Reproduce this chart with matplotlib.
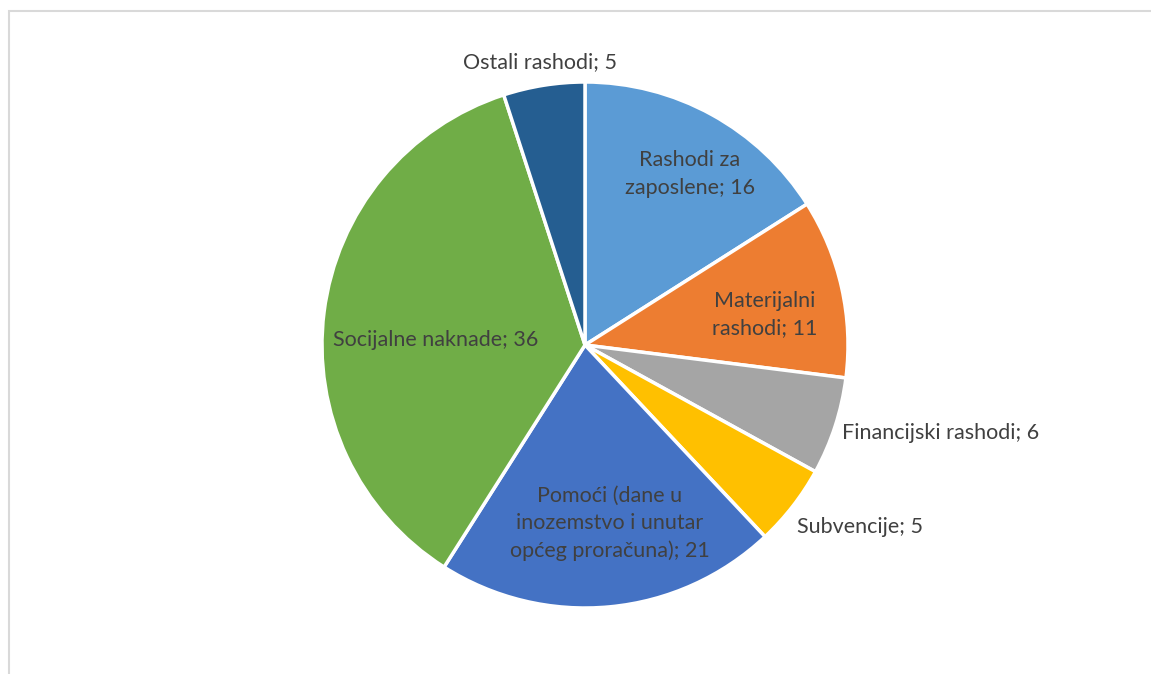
import matplotlib
matplotlib.use("Agg")
import matplotlib.pyplot as plt
import numpy as np
from matplotlib.patches import Rectangle

categories = ["Rashodi za\nzaposlene", "Materijalni\nrashodi", "Financijski rashodi",
              "Subvencije", "Pomoći (dane u\ninozemstvo i unutar\nopćeg proračuna)",
              "Socijalne naknade", "Ostali rashodi"]
values = [16, 11, 6, 5, 21, 36, 5]
colors = ["#5B9BD5", "#ED7D31", "#A5A5A5", "#FFC000", "#4472C4", "#70AD47", "#255E91"]
label_dist = [0.763, 0.693, 1.033, 1.062, 0.684, 0.570, 1.089]
label_dang = [-2.7, -3.1, -0.9, -2.8, 2.6, 5.3, 0.0]
label_ha = ["center", "center", "left", "left", "center", "center", "center"]

W, H = 1151, 674
fig = plt.figure(figsize=(W / 100, H / 100), dpi=100)
fig.patches.append(Rectangle((8.5 / W, -0.2), 2, (H - 10.5) / H + 0.2, transform=fig.transFigure,
                             facecolor="none", edgecolor="#D9D9D9", linewidth=1.5))

cx, cy, r = 585, 345, 263
ax = fig.add_axes([(cx - r) / W, (H - cy - r) / H, 2 * r / W, 2 * r / H])
wedges, _ = ax.pie(values, colors=colors, startangle=90, counterclock=False,
                   radius=1, wedgeprops=dict(edgecolor="white", linewidth=2.5))
ax.set_xlim(-1, 1)
ax.set_ylim(-1, 1)
ax.set_aspect("equal")
ax.axis("off")

for w, cat, v, d, da, ha in zip(wedges, categories, values, label_dist, label_dang, label_ha):
    ang = np.deg2rad((w.theta1 + w.theta2) / 2 + da)
    x, y = d * np.cos(ang), d * np.sin(ang)
    ax.text(x, y, f"{cat}; {v}", ha=ha, va="center", fontsize=15.5,
            family="Lato", color="#404040", linespacing=1.45, multialignment="center")

fig.savefig("out.png", dpi=100)
